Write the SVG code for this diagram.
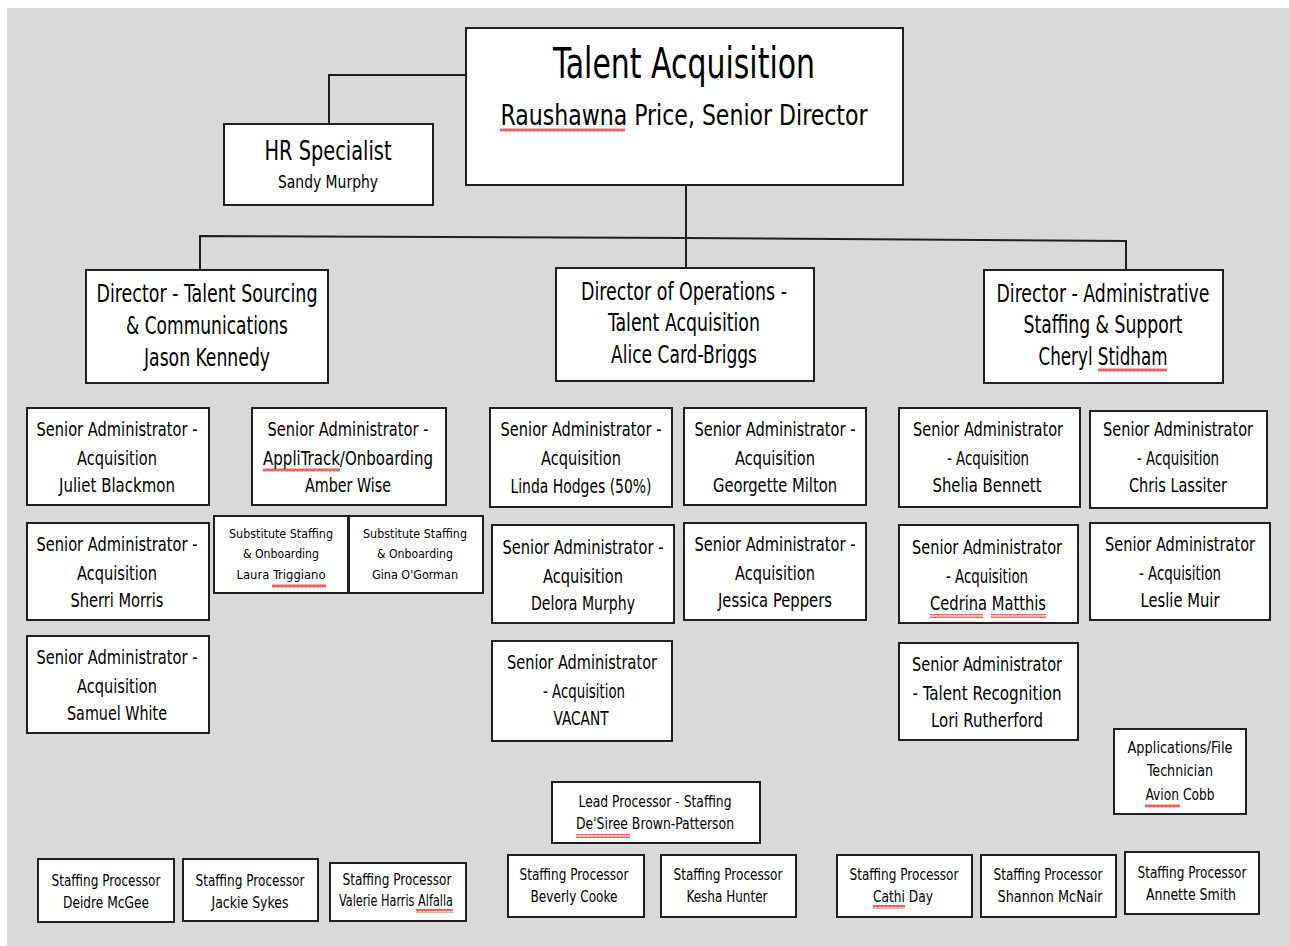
<svg xmlns="http://www.w3.org/2000/svg" width="1289" height="946" viewBox="0 0 1289 946">
<style>
.bg{fill:#d9d9d9}
.box{fill:#fff;stroke:#1f1f1f;stroke-width:2}
.ln{fill:none;stroke:#1f1f1f;stroke-width:2}
text{font-family:"DejaVu Sans Condensed","DejaVu Sans","Liberation Sans",sans-serif;fill:#000;text-anchor:middle}
.t40{font-size:42px}.t28{font-size:28px}.t26{font-size:27px}.t24{font-size:25px}.t19{font-size:19px}.t17{font-size:17px}.t15{font-size:15px}.t12{font-size:12.5px}
</style>
<defs>
<pattern id="wave" width="4" height="4" patternUnits="userSpaceOnUse"><path d="M0,3.5 L1,0.5 L2,3.5 L3,0.5 L4,3.5" fill="none" stroke="#e23a3a" stroke-width="0.9"/></pattern>
</defs>
<rect x="0" y="0" width="1289" height="946" fill="#fff"/>
<rect class="bg" x="7" y="8" width="1282" height="938"/>

<g id="connectors">
<polyline class="ln" points="466,75 329,75 329,124"/>
<line class="ln" x1="686" y1="185" x2="686" y2="268"/>
<polyline class="ln" points="200,270 200,236 686,238 1126,241 1126,270"/>
</g>

<g id="n-top">
<rect class="box" x="466" y="28" width="437" height="157"/>
<text class="t40" x="684" y="78" textLength="262" lengthAdjust="spacingAndGlyphs">Talent Acquisition</text>
<text class="t28" x="684" y="125" textLength="367" lengthAdjust="spacingAndGlyphs">Raushawna Price, Senior Director</text>
<rect x="500" y="128" width="125" height="4" fill="url(#wave)"/>
</g>

<g id="n-hr">
<rect class="box" x="224" y="124" width="209" height="81"/>
<text class="t26" x="328" y="160" textLength="127" lengthAdjust="spacingAndGlyphs">HR Specialist</text>
<text class="t17" x="328" y="188" textLength="100" lengthAdjust="spacingAndGlyphs">Sandy Murphy</text>
</g>

<g id="n-dir-sourcing">
<rect class="box" x="86" y="270" width="242" height="113"/>
<text class="t24" x="207" y="302" textLength="221" lengthAdjust="spacingAndGlyphs">Director - Talent Sourcing</text>
<text class="t24" x="207" y="334" textLength="162" lengthAdjust="spacingAndGlyphs">&amp; Communications</text>
<text class="t24" x="207" y="366" textLength="126" lengthAdjust="spacingAndGlyphs">Jason Kennedy</text>
</g>

<g id="n-dir-ops">
<rect class="box" x="556" y="268" width="258" height="113"/>
<text class="t24" x="684" y="300" textLength="206" lengthAdjust="spacingAndGlyphs">Director of Operations -</text>
<text class="t24" x="684" y="331" textLength="152" lengthAdjust="spacingAndGlyphs">Talent Acquisition</text>
<text class="t24" x="684" y="363" textLength="146" lengthAdjust="spacingAndGlyphs">Alice Card-Briggs</text>
</g>

<g id="n-dir-admin">
<rect class="box" x="984" y="270" width="239" height="113"/>
<text class="t24" x="1103" y="302" textLength="213" lengthAdjust="spacingAndGlyphs">Director - Administrative</text>
<text class="t24" x="1103" y="333" textLength="159" lengthAdjust="spacingAndGlyphs">Staffing &amp; Support</text>
<text class="t24" x="1103" y="365" textLength="129" lengthAdjust="spacingAndGlyphs">Cheryl Stidham</text>
<rect x="1098" y="368" width="69" height="4" fill="url(#wave)"/>
</g>

<g id="n-juliet">
<rect class="box" x="27" y="408" width="182" height="97"/>
<text class="t19" x="117" y="436" textLength="161" lengthAdjust="spacingAndGlyphs">Senior Administrator -</text>
<text class="t19" x="117" y="465" textLength="80" lengthAdjust="spacingAndGlyphs">Acquisition</text>
<text class="t19" x="117" y="492" textLength="116" lengthAdjust="spacingAndGlyphs">Juliet Blackmon</text>
</g>

<g id="n-sherri">
<rect class="box" x="27" y="523" width="182" height="97"/>
<text class="t19" x="117" y="551" textLength="161" lengthAdjust="spacingAndGlyphs">Senior Administrator -</text>
<text class="t19" x="117" y="580" textLength="80" lengthAdjust="spacingAndGlyphs">Acquisition</text>
<text class="t19" x="117" y="607" textLength="93" lengthAdjust="spacingAndGlyphs">Sherri Morris</text>
</g>

<g id="n-samuel">
<rect class="box" x="27" y="636" width="182" height="97"/>
<text class="t19" x="117" y="664" textLength="161" lengthAdjust="spacingAndGlyphs">Senior Administrator -</text>
<text class="t19" x="117" y="693" textLength="80" lengthAdjust="spacingAndGlyphs">Acquisition</text>
<text class="t19" x="117" y="720" textLength="100" lengthAdjust="spacingAndGlyphs">Samuel White</text>
</g>

<g id="n-amber">
<rect class="box" x="252" y="408" width="194" height="97"/>
<text class="t19" x="348" y="436" textLength="161" lengthAdjust="spacingAndGlyphs">Senior Administrator -</text>
<text class="t19" x="348" y="465" textLength="170" lengthAdjust="spacingAndGlyphs">AppliTrack/Onboarding</text>
<text class="t19" x="348" y="492" textLength="86" lengthAdjust="spacingAndGlyphs">Amber Wise</text>
<rect x="263" y="468" width="77" height="4" fill="url(#wave)"/>
</g>

<g id="n-laura">
<rect class="box" x="214" y="516" width="134" height="77"/>
<text class="t12" x="281" y="538" textLength="104" lengthAdjust="spacingAndGlyphs">Substitute Staffing</text>
<text class="t12" x="281" y="558" textLength="76" lengthAdjust="spacingAndGlyphs">&amp; Onboarding</text>
<text class="t12" x="281" y="579" textLength="89" lengthAdjust="spacingAndGlyphs">Laura Triggiano</text>
<rect x="272" y="584" width="54" height="4" fill="url(#wave)"/>
</g>

<g id="n-gina">
<rect class="box" x="349" y="516" width="134" height="77"/>
<text class="t12" x="415" y="538" textLength="104" lengthAdjust="spacingAndGlyphs">Substitute Staffing</text>
<text class="t12" x="415" y="558" textLength="76" lengthAdjust="spacingAndGlyphs">&amp; Onboarding</text>
<text class="t12" x="415" y="579" textLength="86" lengthAdjust="spacingAndGlyphs">Gina O'Gorman</text>
</g>

<g id="n-linda">
<rect class="box" x="490" y="408" width="182" height="99"/>
<text class="t19" x="581" y="436" textLength="161" lengthAdjust="spacingAndGlyphs">Senior Administrator -</text>
<text class="t19" x="581" y="465" textLength="80" lengthAdjust="spacingAndGlyphs">Acquisition</text>
<text class="t19" x="581" y="493" textLength="141" lengthAdjust="spacingAndGlyphs">Linda Hodges (50%)</text>
</g>

<g id="n-georgette">
<rect class="box" x="684" y="408" width="182" height="97"/>
<text class="t19" x="775" y="436" textLength="161" lengthAdjust="spacingAndGlyphs">Senior Administrator -</text>
<text class="t19" x="775" y="465" textLength="80" lengthAdjust="spacingAndGlyphs">Acquisition</text>
<text class="t19" x="775" y="492" textLength="124" lengthAdjust="spacingAndGlyphs">Georgette Milton</text>
</g>

<g id="n-delora">
<rect class="box" x="492" y="525" width="182" height="98"/>
<text class="t19" x="583" y="554" textLength="161" lengthAdjust="spacingAndGlyphs">Senior Administrator -</text>
<text class="t19" x="583" y="583" textLength="80" lengthAdjust="spacingAndGlyphs">Acquisition</text>
<text class="t19" x="583" y="610" textLength="104" lengthAdjust="spacingAndGlyphs">Delora Murphy</text>
</g>

<g id="n-jessica">
<rect class="box" x="684" y="523" width="182" height="97"/>
<text class="t19" x="775" y="551" textLength="161" lengthAdjust="spacingAndGlyphs">Senior Administrator -</text>
<text class="t19" x="775" y="580" textLength="80" lengthAdjust="spacingAndGlyphs">Acquisition</text>
<text class="t19" x="775" y="607" textLength="114" lengthAdjust="spacingAndGlyphs">Jessica Peppers</text>
</g>

<g id="n-vacant">
<rect class="box" x="492" y="641" width="180" height="100"/>
<text class="t19" x="582" y="669" textLength="150" lengthAdjust="spacingAndGlyphs">Senior Administrator</text>
<text class="t19" x="584" y="698" textLength="82" lengthAdjust="spacingAndGlyphs">- Acquisition</text>
<text class="t19" x="581" y="725" textLength="55" lengthAdjust="spacingAndGlyphs">VACANT</text>
</g>

<g id="n-shelia">
<rect class="box" x="899" y="408" width="181" height="99"/>
<text class="t19" x="988" y="436" textLength="150" lengthAdjust="spacingAndGlyphs">Senior Administrator</text>
<text class="t19" x="988" y="465" textLength="82" lengthAdjust="spacingAndGlyphs">- Acquisition</text>
<text class="t19" x="987" y="492" textLength="109" lengthAdjust="spacingAndGlyphs">Shelia Bennett</text>
</g>

<g id="n-chris">
<rect class="box" x="1090" y="411" width="177" height="97"/>
<text class="t19" x="1178" y="436" textLength="150" lengthAdjust="spacingAndGlyphs">Senior Administrator</text>
<text class="t19" x="1178" y="465" textLength="82" lengthAdjust="spacingAndGlyphs">- Acquisition</text>
<text class="t19" x="1178" y="492" textLength="98" lengthAdjust="spacingAndGlyphs">Chris Lassiter</text>
</g>

<g id="n-cedrina">
<rect class="box" x="899" y="525" width="179" height="98"/>
<text class="t19" x="987" y="554" textLength="150" lengthAdjust="spacingAndGlyphs">Senior Administrator</text>
<text class="t19" x="987" y="583" textLength="82" lengthAdjust="spacingAndGlyphs">- Acquisition</text>
<text class="t19" x="988" y="610" textLength="116" lengthAdjust="spacingAndGlyphs">Cedrina Matthis</text>
<rect x="930" y="614" width="53" height="4" fill="url(#wave)"/>
<rect x="991" y="614" width="55" height="4" fill="url(#wave)"/>
</g>

<g id="n-leslie">
<rect class="box" x="1090" y="523" width="180" height="97"/>
<text class="t19" x="1180" y="551" textLength="150" lengthAdjust="spacingAndGlyphs">Senior Administrator</text>
<text class="t19" x="1180" y="580" textLength="82" lengthAdjust="spacingAndGlyphs">- Acquisition</text>
<text class="t19" x="1180" y="607" textLength="79" lengthAdjust="spacingAndGlyphs">Leslie Muir</text>
</g>

<g id="n-lori">
<rect class="box" x="899" y="643" width="179" height="97"/>
<text class="t19" x="987" y="671" textLength="150" lengthAdjust="spacingAndGlyphs">Senior Administrator</text>
<text class="t19" x="987" y="700" textLength="149" lengthAdjust="spacingAndGlyphs">- Talent Recognition</text>
<text class="t19" x="987" y="727" textLength="112" lengthAdjust="spacingAndGlyphs">Lori Rutherford</text>
</g>

<g id="n-avion">
<rect class="box" x="1114" y="729" width="132" height="85"/>
<text class="t15" x="1180" y="753" textLength="105" lengthAdjust="spacingAndGlyphs">Applications/File</text>
<text class="t15" x="1180" y="776" textLength="66" lengthAdjust="spacingAndGlyphs">Technician</text>
<text class="t15" x="1180" y="800" textLength="69" lengthAdjust="spacingAndGlyphs">Avion Cobb</text>
<rect x="1145" y="804" width="35" height="4" fill="url(#wave)"/>
</g>

<g id="n-desiree">
<rect class="box" x="552" y="782" width="208" height="61"/>
<text class="t15" x="655" y="807" textLength="153" lengthAdjust="spacingAndGlyphs">Lead Processor - Staffing</text>
<text class="t15" x="655" y="829" textLength="158" lengthAdjust="spacingAndGlyphs">De'Siree Brown-Patterson</text>
<rect x="576" y="834" width="54" height="4" fill="url(#wave)"/>
</g>

<g id="n-deidre">
<rect class="box" x="38" y="859" width="136" height="63"/>
<text class="t15" x="106" y="886" textLength="109" lengthAdjust="spacingAndGlyphs">Staffing Processor</text>
<text class="t15" x="106" y="908" textLength="86" lengthAdjust="spacingAndGlyphs">Deidre McGee</text>
</g>

<g id="n-jackie">
<rect class="box" x="183" y="859" width="135" height="62"/>
<text class="t15" x="250" y="886" textLength="109" lengthAdjust="spacingAndGlyphs">Staffing Processor</text>
<text class="t15" x="250" y="908" textLength="77" lengthAdjust="spacingAndGlyphs">Jackie Sykes</text>
</g>

<g id="n-valerie">
<rect class="box" x="330" y="863" width="136" height="58"/>
<text class="t15" x="397" y="885" textLength="109" lengthAdjust="spacingAndGlyphs">Staffing Processor</text>
<text class="t15" x="396" y="906" textLength="114" lengthAdjust="spacingAndGlyphs">Valerie Harris Alfalla</text>
<rect x="416" y="909" width="37" height="4" fill="url(#wave)"/>
</g>

<g id="n-beverly">
<rect class="box" x="508" y="855" width="136" height="62"/>
<text class="t15" x="574" y="880" textLength="109" lengthAdjust="spacingAndGlyphs">Staffing Processor</text>
<text class="t15" x="574" y="902" textLength="87" lengthAdjust="spacingAndGlyphs">Beverly Cooke</text>
</g>

<g id="n-kesha">
<rect class="box" x="661" y="855" width="135" height="62"/>
<text class="t15" x="728" y="880" textLength="109" lengthAdjust="spacingAndGlyphs">Staffing Processor</text>
<text class="t15" x="727" y="902" textLength="81" lengthAdjust="spacingAndGlyphs">Kesha Hunter</text>
</g>

<g id="n-cathi">
<rect class="box" x="837" y="855" width="135" height="62"/>
<text class="t15" x="904" y="880" textLength="109" lengthAdjust="spacingAndGlyphs">Staffing Processor</text>
<text class="t15" x="903" y="902" textLength="60" lengthAdjust="spacingAndGlyphs">Cathi Day</text>
<rect x="873" y="905" width="32" height="4" fill="url(#wave)"/>
</g>

<g id="n-shannon">
<rect class="box" x="981" y="855" width="135" height="62"/>
<text class="t15" x="1048" y="880" textLength="109" lengthAdjust="spacingAndGlyphs">Staffing Processor</text>
<text class="t15" x="1050" y="902" textLength="105" lengthAdjust="spacingAndGlyphs">Shannon McNair</text>
</g>

<g id="n-annette">
<rect class="box" x="1125" y="852" width="134" height="62"/>
<text class="t15" x="1192" y="878" textLength="109" lengthAdjust="spacingAndGlyphs">Staffing Processor</text>
<text class="t15" x="1191" y="900" textLength="90" lengthAdjust="spacingAndGlyphs">Annette Smith</text>
</g>
</svg>
